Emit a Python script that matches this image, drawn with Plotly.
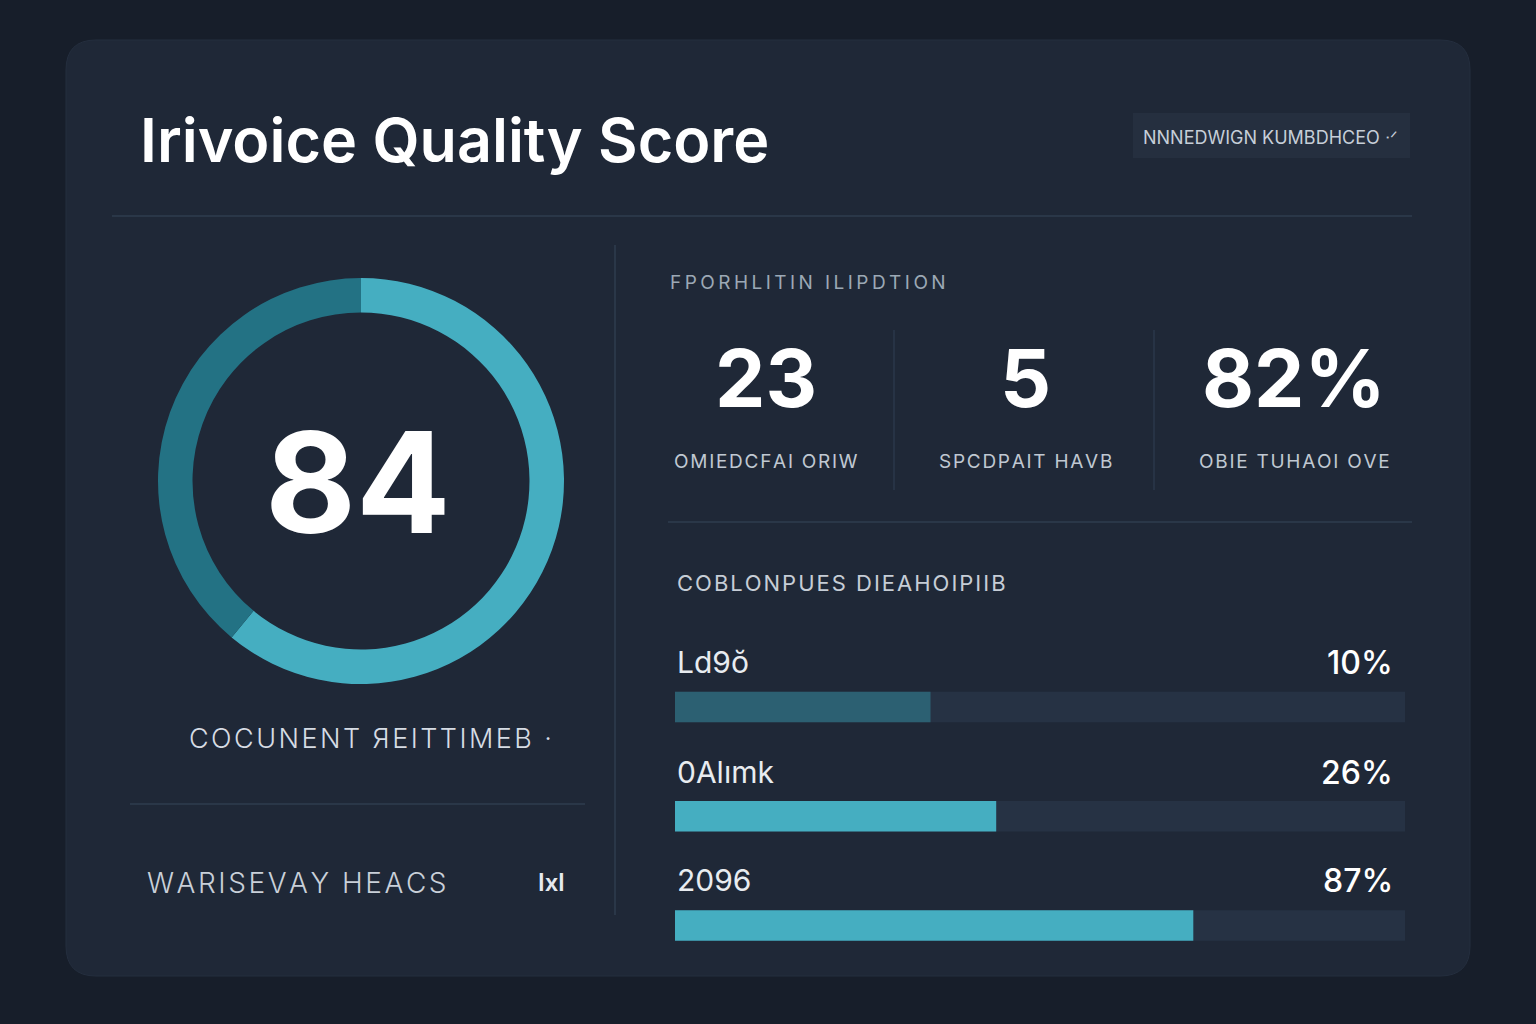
import plotly.graph_objects as go

W, H = 1536, 1024

# ---- data ----
title_text = "Irivoice Quality Score"
badge_text = "NNNEDWIGN KUMBDHCEO ᐧᐟ"
score_value = "84"
ring_segments = ["Score", "Remaining"]
ring_values = [61, 39]
score_caption = "COCUNENT ЯEITTIMEB ·"
footer_left = "WARISEVAY HEACS"
footer_right = "Ixl"

stats_heading = "FPORHLITIN ILIPDTION"
stat_values = ["23", "5", "82%"]
stat_labels = ["OMIEDCFAI ORIW", "SPCDPAIT HAVB", "OBIE TUHAOI OVE"]

bars_heading = "COBLONPUES DIEAHOIPIIB"
bar_names = ["Ld9ŏ", "0Alımk", "2096"]
bar_values = [35, 44, 71]
bar_labels = ["10%", "26%", "87%"]
bar_max = 100


def px(x):
    return x / W


def py(y):
    return 1 - y / H


def spaced(t, sep="\u200a"):
    return sep.join(list(t))


PAGE = "#171e2a"
CARD = "#1f2837"
LINE = "#2a3748"
TEAL = "#45aec1"
TEAL_DARK = "#237284"
TRACK = "#263244"

fig = go.Figure()

# ring (donut)
fig.add_trace(go.Pie(
    labels=ring_segments, values=ring_values, hole=0.83, sort=False,
    direction="clockwise", rotation=0,
    marker=dict(colors=[TEAL, TEAL_DARK], line=dict(width=0)),
    textinfo="none", hoverinfo="skip", showlegend=False,
    domain=dict(x=[px(158), px(564)], y=[py(684), py(278)]),
))

# bars: tracks + fills
fig.add_trace(go.Bar(
    y=bar_names, x=[bar_max] * len(bar_names), orientation="h",
    marker=dict(color=TRACK, line=dict(width=0)),
    hoverinfo="skip", showlegend=False, xaxis="x", yaxis="y",
))
fig.add_trace(go.Bar(
    y=bar_names, x=bar_values, orientation="h",
    marker=dict(color=["#2c6072", TEAL, TEAL], line=dict(width=0)),
    hoverinfo="skip", showlegend=False, xaxis="x", yaxis="y",
))

shapes = []
# card
x0, y0, x1, y1, r = 66, 40, 1470, 976, 30
path = (f"M {px(x0 + r)} {py(y0)} L {px(x1 - r)} {py(y0)} "
        f"Q {px(x1)} {py(y0)} {px(x1)} {py(y0 + r)} "
        f"L {px(x1)} {py(y1 - r)} Q {px(x1)} {py(y1)} {px(x1 - r)} {py(y1)} "
        f"L {px(x0 + r)} {py(y1)} Q {px(x0)} {py(y1)} {px(x0)} {py(y1 - r)} "
        f"L {px(x0)} {py(y0 + r)} Q {px(x0)} {py(y0)} {px(x0 + r)} {py(y0)} Z")
shapes.append(dict(type="path", path=path, xref="paper", yref="paper",
                   fillcolor=CARD, line=dict(color="#242e3e", width=1), layer="below"))
# badge
shapes.append(dict(type="rect", xref="paper", yref="paper",
                   x0=px(1133), x1=px(1410), y0=py(158), y1=py(113),
                   fillcolor="#252f3f", line=dict(width=0), layer="below"))


def hline(xa, xb, y, color=LINE, w=2):
    shapes.append(dict(type="line", xref="paper", yref="paper",
                       x0=px(xa), x1=px(xb), y0=py(y), y1=py(y),
                       line=dict(color=color, width=w), layer="below"))


def vline(x, ya, yb, color=LINE, w=2):
    shapes.append(dict(type="line", xref="paper", yref="paper",
                       x0=px(x), x1=px(x), y0=py(ya), y1=py(yb),
                       line=dict(color=color, width=w), layer="below"))


hline(112, 1412, 216)
vline(615, 245, 915)
hline(130, 585, 804)
hline(668, 1412, 522)
vline(894, 330, 490, "#273345")
vline(1154, 330, 490, "#273345")

ann = []


def text(t, x, y, size, color="#ffffff", xanchor="left", weight=400, family="Inter"):
    ann.append(dict(text=t, x=px(x), y=py(y), xref="paper", yref="paper",
                    xanchor=xanchor, yanchor="middle", showarrow=False,
                    font=dict(size=size, color=color, family=family, weight=weight)))


text(title_text, 138, 140, 61, "#ffffff", weight=600)
text(badge_text, 1270, 137, 18, "#c6ced8", xanchor="center")
text(score_value, 358, 482, 140, "#ffffff", xanchor="center", weight=700)
text(spaced(score_caption), 370, 738, 27, "#d6dce4", xanchor="center", weight=300)
text(spaced(footer_left), 145, 883, 28, "#c9d0d9", weight=300)
text(footer_right, 551, 882, 24, "#e6eaef", xanchor="center", weight=600)

text(spaced(stats_heading, "\u2009"), 668, 282, 19, "#9ca8b5", weight=400)
stat_x = [766, 1025, 1294]
for sx, v, lab in zip(stat_x, stat_values, stat_labels):
    text(v, sx, 377, 80, "#ffffff", xanchor="center", weight=700)
    text(spaced(lab), sx, 461, 19, "#c0c8d2", xanchor="center")

text(spaced(bars_heading), 675, 583, 22, "#c6cdd6", weight=400)
label_y = [662, 772, 880]
for ly, n, l in zip(label_y, bar_names, bar_labels):
    text(n, 675, ly, 30, "#e8ecf0", weight=400)
    text(l, 1395, ly, 32, "#ffffff", xanchor="right", weight=500)

fig.update_layout(
    width=W, height=H, margin=dict(l=0, r=0, t=0, b=0),
    paper_bgcolor=PAGE, plot_bgcolor="rgba(0,0,0,0)",
    barmode="overlay", bargap=0.72,
    shapes=shapes, annotations=ann,
    xaxis=dict(domain=[px(675), px(1405)], range=[0, bar_max], visible=False, fixedrange=True),
    yaxis=dict(domain=[py(980), py(652.5)], autorange="reversed", visible=False,
               fixedrange=True, categoryorder="array", categoryarray=bar_names),
    showlegend=False,
)

fig.write_html("out.html", config={"displayModeBar": False})
